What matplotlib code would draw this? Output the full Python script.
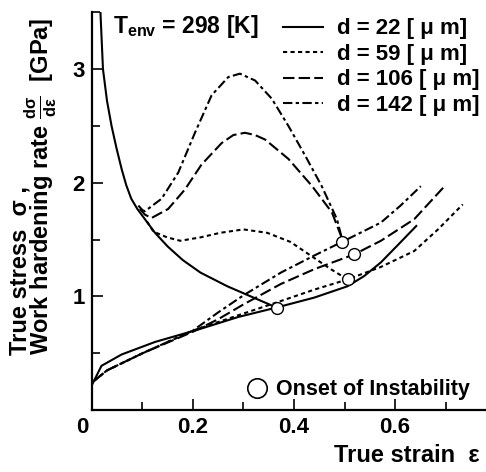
import matplotlib
matplotlib.use("Agg")
import matplotlib.pyplot as plt
from matplotlib.lines import Line2D
from matplotlib.ticker import MultipleLocator

plt.rcParams['font.family'] = ['Liberation Sans', 'DejaVu Sans']
plt.rcParams['font.weight'] = 'bold'
plt.rcParams['axes.labelweight'] = 'bold'
plt.rcParams['mathtext.fontset'] = 'custom'
plt.rcParams['mathtext.rm'] = 'Liberation Sans:bold'
plt.rcParams['mathtext.it'] = 'Liberation Sans:bold'
plt.rcParams['mathtext.bf'] = 'Liberation Sans:bold'

################################################################################
# Data
################################################################################

labels = ["d = 22 [ \u03bc m]", "d = 59 [ \u03bc m]",
          "d = 106 [ \u03bc m]", "d = 142 [ \u03bc m]"]

# true stress curves
stress_x_22 = [0.0, 0.019, 0.059, 0.125, 0.211, 0.29, 0.363, 0.44, 0.506, 0.539, 0.572, 0.605, 0.642]
stress_y_22 = [0.22, 0.39, 0.49, 0.60, 0.71, 0.82, 0.90, 0.99, 1.09, 1.18, 1.30, 1.45, 1.62]

stress_x_59 = [0.005, 0.03, 0.10, 0.20, 0.30, 0.374, 0.44, 0.506, 0.572, 0.638, 0.685, 0.734]
stress_y_59 = [0.26, 0.35, 0.50, 0.70, 0.85, 0.96, 1.06, 1.15, 1.26, 1.40, 1.59, 1.81]

stress_x_106 = [0.005, 0.03, 0.10, 0.20, 0.25, 0.30, 0.374, 0.44, 0.519, 0.572, 0.638, 0.698]
stress_y_106 = [0.26, 0.35, 0.50, 0.69, 0.80, 0.93, 1.11, 1.24, 1.37, 1.49, 1.68, 1.97]

stress_x_142 = [0.005, 0.03, 0.10, 0.20, 0.25, 0.30, 0.374, 0.44, 0.495, 0.572, 0.611, 0.651]
stress_y_142 = [0.26, 0.35, 0.50, 0.70, 0.86, 1.01, 1.21, 1.36, 1.48, 1.65, 1.80, 1.97]

# work hardening rate curves
hard_x_22 = [0.017, 0.022, 0.030, 0.039, 0.049, 0.059, 0.068, 0.078, 0.090, 0.105, 0.125,
             0.150, 0.180, 0.215, 0.268, 0.320, 0.367]
hard_y_22 = [3.50, 3.00, 2.72, 2.50, 2.30, 2.12, 1.98, 1.86, 1.77, 1.68, 1.56,
             1.44, 1.32, 1.21, 1.09, 0.99, 0.90]

hard_x_59 = [0.109, 0.122, 0.149, 0.175, 0.215, 0.254, 0.30, 0.347, 0.393, 0.433, 0.473, 0.506]
hard_y_59 = [1.66, 1.57, 1.52, 1.49, 1.52, 1.56, 1.59, 1.56, 1.48, 1.36, 1.24, 1.15]

hard_x_106 = [0.095, 0.105, 0.118, 0.151, 0.184, 0.217, 0.257, 0.280, 0.303, 0.323, 0.343,
              0.389, 0.436, 0.475, 0.496]
hard_y_106 = [1.77, 1.72, 1.69, 1.77, 1.94, 2.16, 2.35, 2.42, 2.44, 2.42, 2.38,
              2.21, 1.97, 1.74, 1.50]

hard_x_142 = [0.092, 0.100, 0.105, 0.138, 0.171, 0.204, 0.237, 0.270, 0.293, 0.323, 0.356,
              0.389, 0.422, 0.455, 0.485, 0.496]
hard_y_142 = [1.80, 1.76, 1.75, 1.86, 2.09, 2.44, 2.77, 2.93, 2.96, 2.90, 2.74,
              2.50, 2.24, 1.97, 1.68, 1.49]

# onset of instability
onset_x = [0.367, 0.506, 0.519, 0.495]
onset_y = [0.90, 1.15, 1.37, 1.48]

################################################################################
# Plot
################################################################################

styles = [
    dict(linestyle='-'),
    dict(linestyle=(0, (2.0, 1.6))),
    dict(linestyle=(0, (5.5, 2.0))),
    dict(linestyle=(0, (4.5, 1.6, 1.6, 1.6))),
]

stress = [(stress_x_22, stress_y_22), (stress_x_59, stress_y_59),
          (stress_x_106, stress_y_106), (stress_x_142, stress_y_142)]
hard = [(hard_x_22, hard_y_22), (hard_x_59, hard_y_59),
        (hard_x_106, hard_y_106), (hard_x_142, hard_y_142)]

fig = plt.figure(figsize=(4.86, 4.72), dpi=100)
ax = fig.add_axes([0.189, 0.131, 0.811, 0.843])

handles = []
for (sx, sy), (hx, hy), st in zip(stress, hard, styles):
    h, = ax.plot(sx, sy, color='black', lw=1.5, **st)
    ax.plot(hx, hy, color='black', lw=1.5, **st)
    handles.append(h)

ax.plot(onset_x, onset_y, 'o', ms=8.5, mfc='white', mec='black', mew=1.0, zorder=5)

ax.set_xlim(0, 0.78)
ax.set_ylim(0, 3.5)

for side in ['top', 'right']:
    ax.spines[side].set_visible(False)
for side in ['left', 'bottom']:
    ax.spines[side].set_linewidth(1.6)

ax.xaxis.set_minor_locator(MultipleLocator(0.1))
ax.yaxis.set_minor_locator(MultipleLocator(0.5))
ax.set_xticks([0.2, 0.4, 0.6])
ax.set_xticklabels(["0.2", "0.4", "0.6"])
ax.set_yticks([1, 2, 3])
ax.set_yticklabels(["1", "2", "3"])
ax.tick_params(which='major', direction='in', length=8, width=1.2, labelsize=16, pad=5)
ax.tick_params(which='minor', direction='in', length=6, width=1.2)
ax.text(-0.025, -0.018, "0", transform=ax.transAxes, ha='center', va='top', fontsize=16)

ax.set_xlabel("True strain  \u03b5 ", fontsize=17, fontweight='bold', loc='right', labelpad=4)

# two-line y label, lines aligned at the bottom
fig.text(0.070, 0.248,
         "True stress  \u03c3 ,\nWork hardening rate $\\frac{d\\sigma}{d\\varepsilon}$  [GPa]",
         rotation=90, ha='center', va='bottom', multialignment='left', fontsize=17,
         linespacing=0.66)

ax.text(0.053, 0.964, "T$_{env}$ = 298 [K]", transform=ax.transAxes,
        ha='left', va='center', fontsize=16.5)

leg = ax.legend(handles, labels, loc='upper left', bbox_to_anchor=(0.48, 0.99),
                frameon=False, fontsize=16, handlelength=1.8, handletextpad=0.6,
                labelspacing=0.2, borderpad=0.1, borderaxespad=0)
ax.add_artist(leg)

onset_handle = Line2D([], [], marker='o', ls='', ms=14, mfc='white', mec='black', mew=1.2)
ax.legend([onset_handle], ["Onset of Instability"], loc='lower left',
          bbox_to_anchor=(0.385, 0.02), frameon=False, fontsize=15.5,
          handlelength=1.0, handletextpad=0.4, borderpad=0.1, borderaxespad=0)

fig.savefig("out.png", dpi=100)
